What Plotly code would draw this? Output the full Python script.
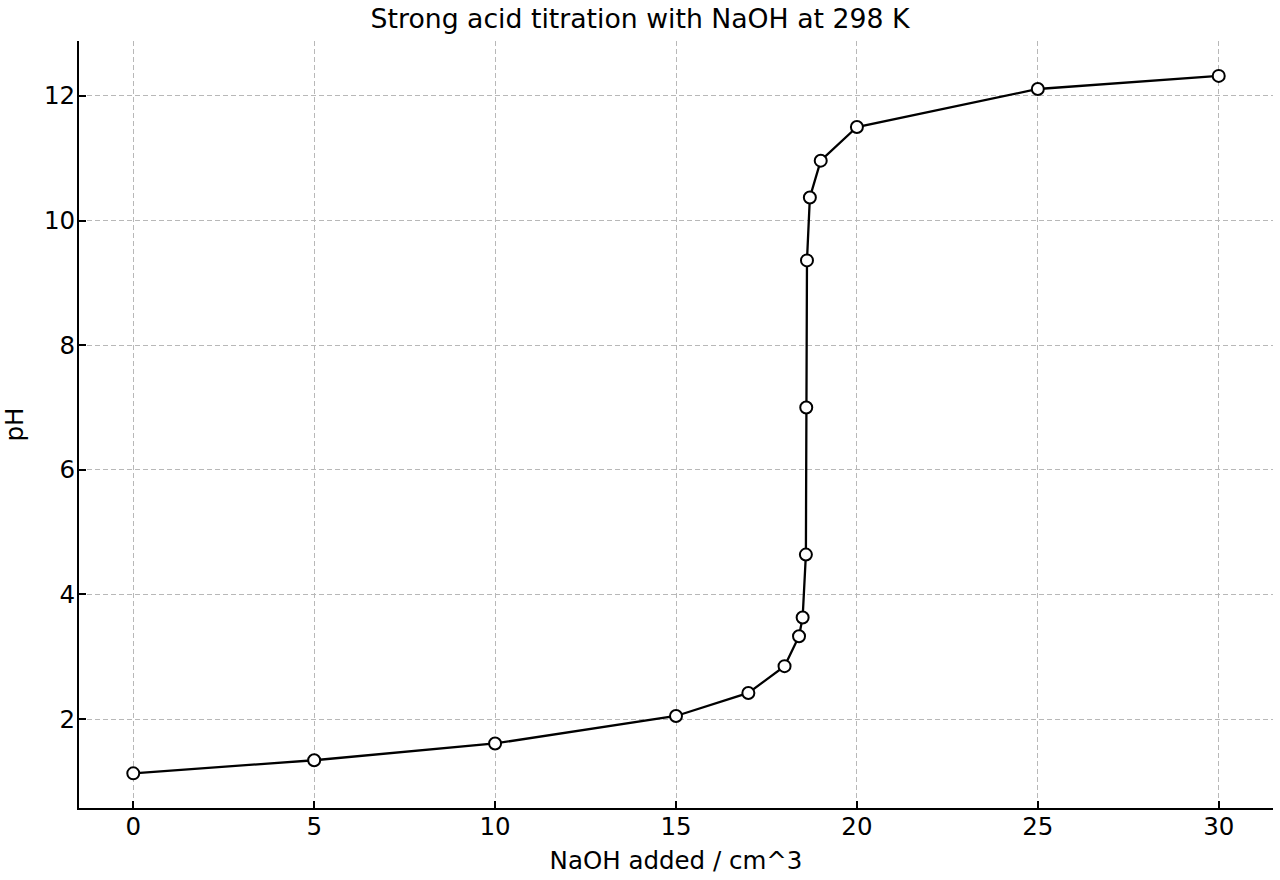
import plotly.graph_objects as go

naoh_added = [0, 5, 10, 15, 17, 18, 18.4, 18.5, 18.59, 18.6, 18.62, 18.7, 19, 20, 25, 30]
ph_values = [1.13, 1.34, 1.61, 2.05, 2.42, 2.85, 3.33, 3.63, 4.64, 7.0, 9.36, 10.37, 10.96, 11.50, 12.11, 12.32]

x_ticks = [0, 5, 10, 15, 20, 25, 30]
y_ticks = [2, 4, 6, 8, 10, 12]

fig = go.Figure()
fig.add_trace(go.Scatter(
    x=naoh_added, y=ph_values, mode="lines+markers",
    line=dict(color="black", width=2.3),
    marker=dict(symbol="circle", size=12, color="white", line=dict(color="black", width=2)),
    showlegend=False,
))

font = "DejaVu Sans, sans-serif"
fig.update_layout(
    width=1280, height=880,
    margin=dict(l=79, r=7, t=41, b=72),
    paper_bgcolor="white", plot_bgcolor="white",
    font=dict(family=font, size=24, color="black"),
    title=dict(text="Strong acid titration with NaOH at 298 K", x=0.5, xanchor="center",
               y=0.979, yanchor="middle", font=dict(size=26.7, family=font)),
)
axis_common = dict(
    showline=True, linecolor="black", linewidth=2,
    ticks="inside", ticklen=7, tickwidth=2, tickcolor="black",
    showgrid=True, gridcolor="#b8b8b8", griddash="5px,3px", gridwidth=1,
    zeroline=False, mirror=False,
    tickfont=dict(size=24.5, family=font),
)
fig.update_xaxes(range=[-1.5, 31.5], tickvals=x_ticks, ticklabelstandoff=-4,
                 title=dict(text="NaOH added / cm^3", font=dict(size=24.5, family=font), standoff=11),
                 **axis_common)
fig.update_yaxes(range=[0.574, 12.88], tickvals=y_ticks, ticklabelstandoff=-3,
                 title=dict(text="pH", font=dict(size=24.5, family=font), standoff=17),
                 **axis_common)

fig.write_html("out.html")
